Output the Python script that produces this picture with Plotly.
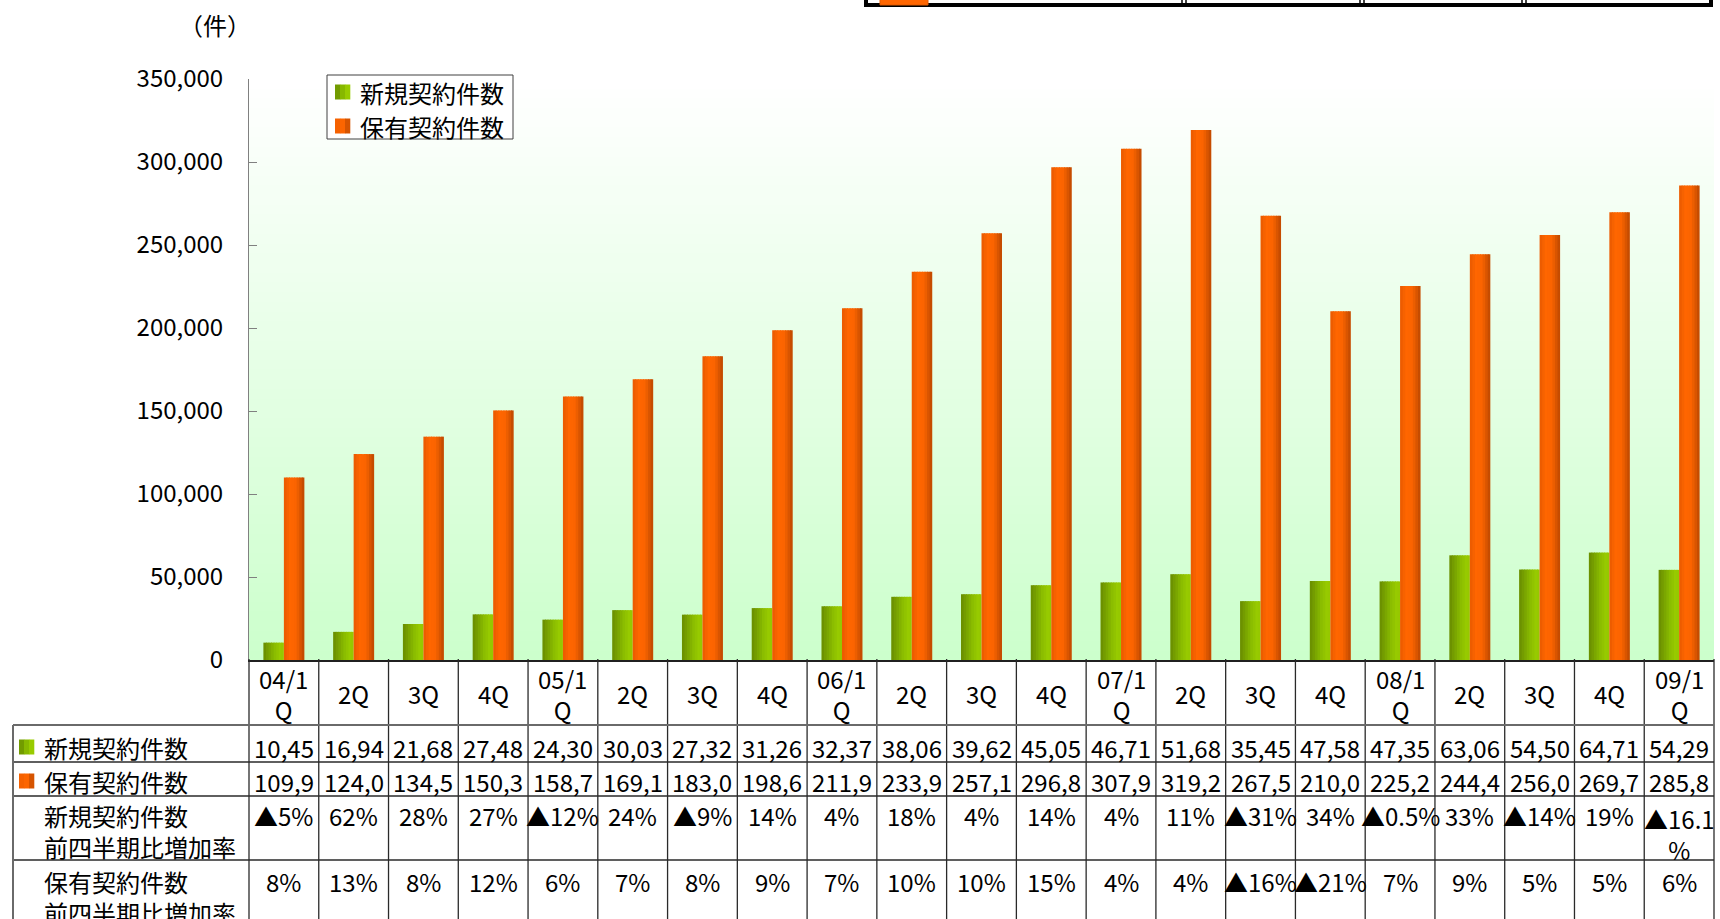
import plotly.graph_objects as go

# ---------------- data ----------------
quarters = ["04/1Q", "2Q", "3Q", "4Q", "05/1Q", "2Q", "3Q", "4Q", "06/1Q", "2Q", "3Q", "4Q",
            "07/1Q", "2Q", "3Q", "4Q", "08/1Q", "2Q", "3Q", "4Q", "09/1Q"]
new_contracts = [10455, 16945, 21685, 27485, 24305, 30035, 27325, 31265, 32375, 38065, 39625,
                 45055, 46715, 51685, 35455, 47585, 47355, 63065, 54505, 64715, 54295]
held_contracts = [109950, 124050, 134550, 150350, 158750, 169150, 183050, 198650, 211950, 233950,
                  257150, 296850, 307950, 319250, 267550, 210050, 225250, 244450, 256050, 269750, 285850]
new_rate = ["▲5%", "62%", "28%", "27%", "▲12%", "24%", "▲9%", "14%", "4%", "18%", "4%", "14%",
            "4%", "11%", "▲31%", "34%", "▲0.5%", "33%", "▲14%", "19%", "▲16.1%"]
held_rate = ["8%", "13%", "8%", "12%", "6%", "7%", "8%", "9%", "7%", "10%", "10%", "15%",
             "4%", "4%", "▲16%", "▲21%", "7%", "9%", "5%", "5%", "6%"]
series_names = ["新規契約件数", "保有契約件数"]
rate_label_2 = "前四半期比増加率"
y_ticks = [0, 50000, 100000, 150000, 200000, 250000, 300000, 350000]
unit_label = "（件）"

# ---------------- geometry (screen pixels; body margin removed) ----------------
W, H = 1720, 919
OFF = 0
L, R, T, B = 249, 1714, 79, 660          # plot area on screen
PW, PH = R - L, B - T
N = len(quarters)
COLW = PW / N
FONT = "Noto Sans CJK JP"


def px(x):
    return (x - L) / PW


def py(y):
    return (B - y) / PH


def lerp_stops(stops, t):
    for (p0, c0), (p1, c1) in zip(stops[:-1], stops[1:]):
        if p0 <= t <= p1:
            f = (t - p0) / (p1 - p0) if p1 > p0 else 0
            return "rgb(%d,%d,%d)" % tuple(round(a + (b - a) * f) for a, b in zip(c0, c1))
    return "rgb(%d,%d,%d)" % stops[-1][1]


green_stops = [(0.0, (104, 140, 0)), (0.55, (138, 188, 0)), (0.85, (153, 204, 0)), (1.0, (148, 198, 0))]
orange_stops = [(0.0, (232, 90, 0)), (0.3, (255, 102, 0)), (0.6, (250, 100, 0)), (1.0, (188, 72, 0))]

fig = go.Figure()
xpos = list(range(N))
BW = 20.5 / COLW  # bar width in category units
NS = 8
sw = BW / NS
for s, (vals, stops, name) in enumerate([(new_contracts, green_stops, series_names[0]),
                                          (held_contracts, orange_stops, series_names[1])]):
    base = -BW if s == 0 else 0.0
    for i in range(NS):
        col = lerp_stops(stops, (i + 0.5) / NS)
        fig.add_trace(go.Bar(
            x=xpos, y=vals, name=name,
            width=sw * (1.35 if i < NS - 1 else 1.0),
            offset=base + i * sw,
            marker=dict(color=col, line=dict(width=0)),
            showlegend=False, legendgroup=name,
            hovertemplate=name + ": %{y:,}<extra></extra>",
        ))

shapes = []
# plot background gradient
NG = 60
for i in range(NG):
    t = i / (NG - 1)
    c = tuple(round(255 + (v - 255) * (1 - t)) for v in (204, 255, 204))
    shapes.append(dict(type="rect", xref="paper", yref="paper", x0=0, x1=1,
                       y0=i / NG, y1=(i + 1) / NG + 0.002, layer="below",
                       fillcolor="rgb(%d,%d,%d)" % c, line=dict(width=0)))

# data table lines
TOP_H, ROW1, ROW2, ROW3, ROW4 = 659, 725, 762, 796, 860
inner = dict(color="#2a2a2a", width=1.3)
outer = dict(color="#6a6a6a", width=2)
for k in range(N + 1):
    x = L + k * COLW
    shapes.append(dict(type="line", xref="paper", yref="paper", x0=px(x), x1=px(x),
                       y0=py(TOP_H), y1=py(H + 5), line=inner))
shapes.append(dict(type="line", xref="paper", yref="paper", x0=px(13), x1=px(R),
                   y0=py(ROW1), y1=py(ROW1), line=outer))
for yy in (ROW2, ROW3, ROW4):
    shapes.append(dict(type="line", xref="paper", yref="paper", x0=px(13), x1=px(R),
                       y0=py(yy), y1=py(yy), line=inner))
shapes.append(dict(type="line", xref="paper", yref="paper", x0=px(13), x1=px(13),
                   y0=py(ROW1), y1=py(H + 5), line=outer))


def swatch(x0, yc, size, stops):
    for i in range(3):
        shapes.append(dict(type="rect", xref="paper", yref="paper",
                           x0=px(x0 + i * size / 3), x1=px(x0 + (i + 1) * size / 3 + 0.3),
                           y0=py(yc + size / 2), y1=py(yc - size / 2),
                           fillcolor=lerp_stops(stops, (i + 0.5) / 3), line=dict(width=0)))


# row legend markers
swatch(19, 747, 15, green_stops)
swatch(19, 781, 15, orange_stops)

# chart legend box (drawn)
shapes.append(dict(type="rect", xref="paper", yref="paper", x0=px(327), x1=px(513),
                   y0=py(139), y1=py(75), fillcolor="white", line=dict(color="#404040", width=1)))
swatch(335, 92, 15, green_stops)
swatch(335, 126, 15, orange_stops)

# partial table cut off at the top right
shapes.append(dict(type="line", xref="paper", yref="paper", x0=px(864), x1=px(1713),
                   y0=py(5), y1=py(5), line=dict(color="black", width=4)))
for xx in (866, 1711):
    shapes.append(dict(type="line", xref="paper", yref="paper", x0=px(xx), x1=px(xx),
                       y0=py(7), y1=py(-2), line=dict(color="black", width=4)))
for xx in (1182, 1186, 1360, 1364, 1522, 1526):
    shapes.append(dict(type="line", xref="paper", yref="paper", x0=px(xx), x1=px(xx),
                       y0=py(4), y1=py(-2), line=dict(color="black", width=1.5)))
shapes.append(dict(type="rect", xref="paper", yref="paper", x0=px(880), x1=px(928),
                   y0=py(5), y1=py(-3), fillcolor="#ff6600", line=dict(color="#e05a00", width=1)))

annotations = []


def txt(x, y, s, anchor="center", yanchor="middle", align="center"):
    annotations.append(dict(text=s, x=px(x), y=py(y), xref="paper", yref="paper",
                            showarrow=False, xanchor=anchor, yanchor=yanchor, align=align,
                            font=dict(family=FONT, size=24, color="black")))


for k in range(N):
    cx = L + (k + 0.5) * COLW
    q = quarters[k]
    if len(q) > 3:
        txt(cx, 694, q[:4] + "<br>" + q[4:])
    else:
        txt(cx, 693, q)
    txt(cx, 747, f"{new_contracts[k]:,}"[:5])
    txt(cx, 781, f"{held_contracts[k]:,}"[:5])
    r = new_rate[k]
    if len(r) > 5:
        txt(cx, 799, r[:5] + "<br>" + r[5:], yanchor="top")
    else:
        txt(cx, 815, r)
    txt(cx, 881, held_rate[k])

txt(42, 747, series_names[0], "left")
txt(42, 781, series_names[1], "left")
txt(42, 831, series_names[0] + "<br>" + rate_label_2, "left", align="left")
txt(42, 897, series_names[1] + "<br>" + rate_label_2, "left", align="left")
txt(215, 24, unit_label)
txt(358, 92, series_names[0], "left")
txt(358, 126, series_names[1], "left")

fig.update_layout(
    width=W, height=H,
    margin=dict(l=L - OFF, r=W - (R - OFF), t=T - OFF, b=H - (B - OFF), pad=0),
    paper_bgcolor="white", plot_bgcolor="white",
    barmode="overlay",
    font=dict(family=FONT, size=24, color="black"),
    showlegend=False,
    shapes=shapes, annotations=annotations,
    xaxis=dict(range=[-0.5, N - 0.5], showticklabels=False, ticks="", showgrid=False,
               zeroline=False, showline=True, linecolor="#202020", linewidth=2, fixedrange=True),
    yaxis=dict(range=[0, 350000], tickvals=y_ticks, tickformat=",", ticks="inside", ticklen=8,
               tickcolor="#808080", showline=True, linecolor="#808080", linewidth=1,
               showgrid=False, zeroline=False, ticklabelstandoff=20,
               tickfont=dict(family=FONT, size=24, color="black"), fixedrange=True),
)

fig.write_html("out.html",
               config={"displayModeBar": False},
               post_script="document.body.style.margin='0';document.body.style.overflow='hidden';")
